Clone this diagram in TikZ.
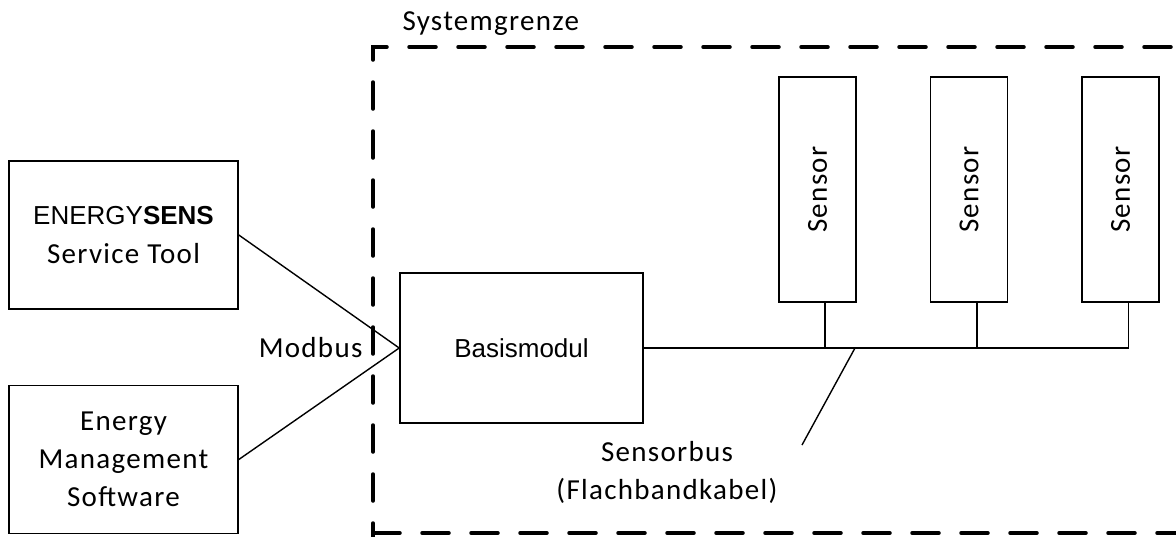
\documentclass[tikz,border=0pt]{standalone}
\usepackage{graphicx}
\usepackage{fontspec}
\setmainfont{Carlito}[LetterSpace=4.5]
\newfontfamily\arialfont{Liberation Sans}
\usetikzlibrary{positioning}
\tikzset{>=latex}
\tikzset{%
  box/.style={draw, line width=1.6pt, minimum width=229pt, minimum height=148pt, inner sep=0pt, align=center},
  sensorbox/.style={draw, line width=1.6pt, minimum width=77pt, minimum height=225pt, inner sep=0pt},
  wire/.style={line width=1.4pt},
  border/.style={line width=3.5pt, line cap=round, dash pattern=on 27pt off 22pt},
  bigtext/.style={font=\fontsize{29}{38}\selectfont},
  armtext/.style={font=\arialfont\fontsize{26}{40}\selectfont}
}

\begin{document}
\begin{tikzpicture}[x=1pt, y=-1pt]

    \useasboundingbox (0,0) rectangle (1176,536);
    \clip (0,0) rectangle (1176,536);

    % system boundary with its label
    \draw [border] (1220,47) -- (373,47) -- (373,540);
    \draw [border] (373,533) -- (1220,533);
    \node [bigtext, anchor=west] (grenze) at (399,24) {Systemgrenze};

    % outside tools
    \node [box, armtext] (tool) at (123.5,235) {ENERGY\textbf{SENS}\\[-1pt]{\rmfamily\fontsize{29}{38}\selectfont Service Tool}};
    \node [box, bigtext] (ems) at (123.5,459.5) {Energy\\Management\\Software};

    % base module
    \node [draw, line width=1.6pt, minimum width=243pt, minimum height=150pt, inner sep=0pt, font=\arialfont\fontsize{26}{30}\selectfont] (basis) at (521.5,348) {Basismodul};

    % sensors
    \node [sensorbox, bigtext] (s1) at (817.5,189.5) {\rotatebox{90}{Sensor}};
    \node [sensorbox, bigtext] (s2) at (969,189.5) {\rotatebox{90}{Sensor}};
    \node [sensorbox, bigtext] (s3) at (1120.5,189.5) {\rotatebox{90}{Sensor}};

    % Modbus lines into the base module
    \draw [wire] (tool.east) -- (basis.west);
    \draw [wire] (ems.east) -- (basis.west);
    \node [bigtext, anchor=east] (modbus) at (366,348) {Modbus};

    % sensor bus and taps
    \coordinate (t1) at (825,348);
    \coordinate (t2) at (977,348);
    \coordinate (t3) at (1128.5,348);
    \draw [wire] (basis.east) -- (t3);
    \draw [wire] (t1) -- (t1 |- s1.south);
    \draw [wire] (t2) -- (t2 |- s2.south);
    \draw [wire] (t3) -- (t3 |- s3.south);

    % note on the bus
    \coordinate (lead) at (855,348);
    \coordinate (leadend) at (802,445);
    \draw [wire] (lead) -- (leadend);
    \node [bigtext, align=center] (busnote) at (667,472) {Sensorbus\\(Flachbandkabel)};

\end{tikzpicture}
\end{document}
